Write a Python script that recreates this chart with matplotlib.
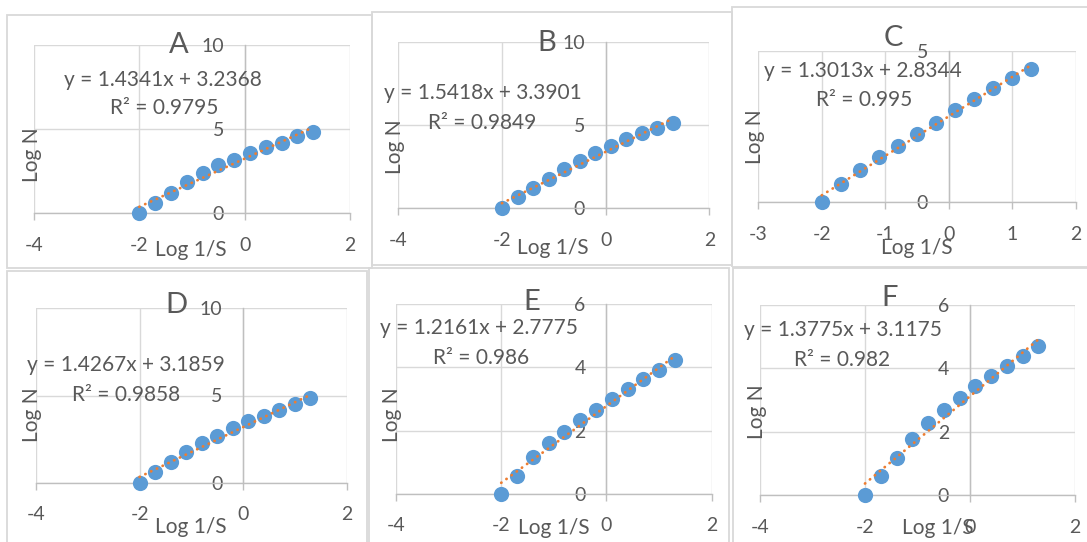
import numpy as np
import matplotlib
matplotlib.use("Agg")
import matplotlib.pyplot as plt
from matplotlib.patches import Rectangle

plt.rcParams.update({"font.family": ["Lato", "DejaVu Sans"], "text.color": "#595959",
                     "axes.unicode_minus": False})

W, H = 1087, 542
BLUE, ORANGE, GRID, AX, INK = "#5B9BD5", "#ED7D31", "#D9D9D9", "#BFBFBF", "#595959"

# ---- data
log_inv_s = [-2.0, -1.7, -1.4, -1.1, -0.8, -0.5, -0.2, 0.1, 0.4, 0.7, 1.0, 1.3]
log_n_a = [0.00, 0.61, 1.21, 1.82, 2.37, 2.83, 3.16, 3.56, 3.91, 4.19, 4.57, 4.82]
log_n_b = [0.00, 0.66, 1.24, 1.76, 2.34, 2.84, 3.34, 3.76, 4.14, 4.50, 4.84, 5.10]
log_n_c = [0.00, 0.60, 1.07, 1.49, 1.86, 2.24, 2.60, 3.03, 3.41, 3.77, 4.09, 4.40]
log_n_d = [0.00, 0.63, 1.20, 1.77, 2.25, 2.67, 3.11, 3.53, 3.84, 4.18, 4.52, 4.83]
log_n_e = [0.00, 0.57, 1.16, 1.61, 1.96, 2.33, 2.66, 3.00, 3.32, 3.62, 3.93, 4.22]
log_n_f = [0.00, 0.60, 1.18, 1.77, 2.26, 2.68, 3.07, 3.43, 3.77, 4.07, 4.40, 4.71]
names = ["A", "B", "C", "D", "E", "F"]
slopes = [1.4341, 1.5418, 1.3013, 1.4267, 1.2161, 1.3775]
intercepts = [3.2368, 3.3901, 2.8344, 3.1859, 2.7775, 3.1175]
r2 = ["0.9795", "0.9849", "0.995", "0.9858", "0.986", "0.982"]
series = [log_n_a, log_n_b, log_n_c, log_n_d, log_n_e, log_n_f]
xlims = [(-4, 2), (-4, 2), (-3, 2), (-4, 2), (-4, 2), (-4, 2)]
xsteps = [2, 2, 1, 2, 2, 2]
ylims = [(0, 10), (0, 10), (0, 5), (0, 10), (0, 6), (0, 6)]
ysteps = [5, 5, 5, 5, 2, 2]

# ---- layout in pixels: panel box, plot area, text anchors
boxes = [(7, 15, 372, 268), (372, 12, 732, 265), (732, 7, 1092, 267),
         (7, 271, 367, 548), (369, 268, 729, 548), (733, 268, 1092, 548)]
areas = [(34, 45, 350, 213), (398.3, 41.7, 709.3, 208.3), (758.3, 50.7, 1075.7, 202.3),
         (36, 308.3, 346.7, 482.7), (396, 304.3, 711.7, 493.7), (760, 305, 1075, 495)]
title_xy = [(179, 45), (546.7, 43.3), (893.3, 38.3), (176.7, 305), (531.7, 301.7), (890, 298.3)]
eq_xy = [(163, 80), (482.5, 93.3), (863.3, 70.7), (126.2, 365), (479.2, 328.3), (842.5, 330)]
r2_xy = [(164, 108), (482.5, 123.3), (864, 100), (126, 395), (480.8, 358.3), (842.5, 360)]
ylab_xy = [(32, 155), (395, 146.7), (755, 136.7), (31.7, 415), (391.7, 415), (756.7, 411.7)]
xlab_xy = [(191, 250), (553, 248), (916.7, 248.3), (190.8, 526.7), (554.2, 528.3), (937.5, 528.3)]

def fx(px): return px / W
def fy(py): return 1 - py / H

fig = plt.figure(figsize=(W / 100, H / 100), dpi=100)

for i in range(6):
    l, t, r, b = boxes[i]
    fig.patches.append(Rectangle((fx(l), fy(b)), (r - l) / W, (b - t) / H, transform=fig.transFigure,
                                 fill=False, ec=GRID, lw=1.3, zorder=0))
    al, at, ar, ab = areas[i]
    ax = fig.add_axes([fx(al), fy(ab), (ar - al) / W, (ab - at) / H])
    ax.patch.set_alpha(0)
    x = np.array(log_inv_s); y = np.array(series[i])
    ax.scatter(x, y, s=120, color=BLUE, zorder=3, clip_on=False, linewidths=0)
    xl = np.array([x.min(), x.max()])
    ax.plot(xl, slopes[i] * xl + intercepts[i], color=ORANGE, lw=2.0, ls=(0, (0.1, 2.2)),
            dash_capstyle="round", zorder=4, clip_on=False)
    ax.set_xlim(*xlims[i]); ax.set_ylim(*ylims[i])
    ax.set_xticks(np.arange(xlims[i][0], xlims[i][1] + 0.1, xsteps[i]))
    ax.set_yticks(np.arange(ylims[i][0], ylims[i][1] + 0.1, ysteps[i]))
    ax.grid(True, color=GRID, lw=1.0, zorder=0)
    ax.set_axisbelow(True)
    for s in ["top", "right"]:
        ax.spines[s].set_visible(False)
    ax.spines["left"].set_position(("data", 0))
    for s in ["left", "bottom"]:
        ax.spines[s].set_color(AX); ax.spines[s].set_linewidth(1.0)
    ax.tick_params(axis="x", length=5, width=1, color=AX, pad=12, labelsize=14, labelcolor=INK)
    ax.tick_params(axis="y", length=0, pad=15, labelsize=14, labelcolor=INK)
    ax.set_xlabel("Log 1/S", fontsize=15, color=INK)
    ax.set_ylabel("Log N", fontsize=15, color=INK)
    ax.xaxis.set_label_coords(fx(xlab_xy[i][0]), fy(xlab_xy[i][1]), transform=fig.transFigure)
    ax.yaxis.set_label_coords(fx(ylab_xy[i][0]), fy(ylab_xy[i][1]), transform=fig.transFigure)
    ax.xaxis.label.set_va("center"); ax.yaxis.label.set_va("center")
    fig.text(fx(title_xy[i][0]), fy(title_xy[i][1]), names[i], fontsize=21, ha="center", va="center", color=INK)
    fig.text(fx(eq_xy[i][0]), fy(eq_xy[i][1]), f"y = {slopes[i]:.4f}x + {intercepts[i]:.4f}",
             fontsize=15, ha="center", va="center", color=INK)
    fig.text(fx(r2_xy[i][0]), fy(r2_xy[i][1]), f"R² = {r2[i]}", fontsize=15, ha="center", va="center", color=INK)

fig.savefig("out.png", dpi=100)
